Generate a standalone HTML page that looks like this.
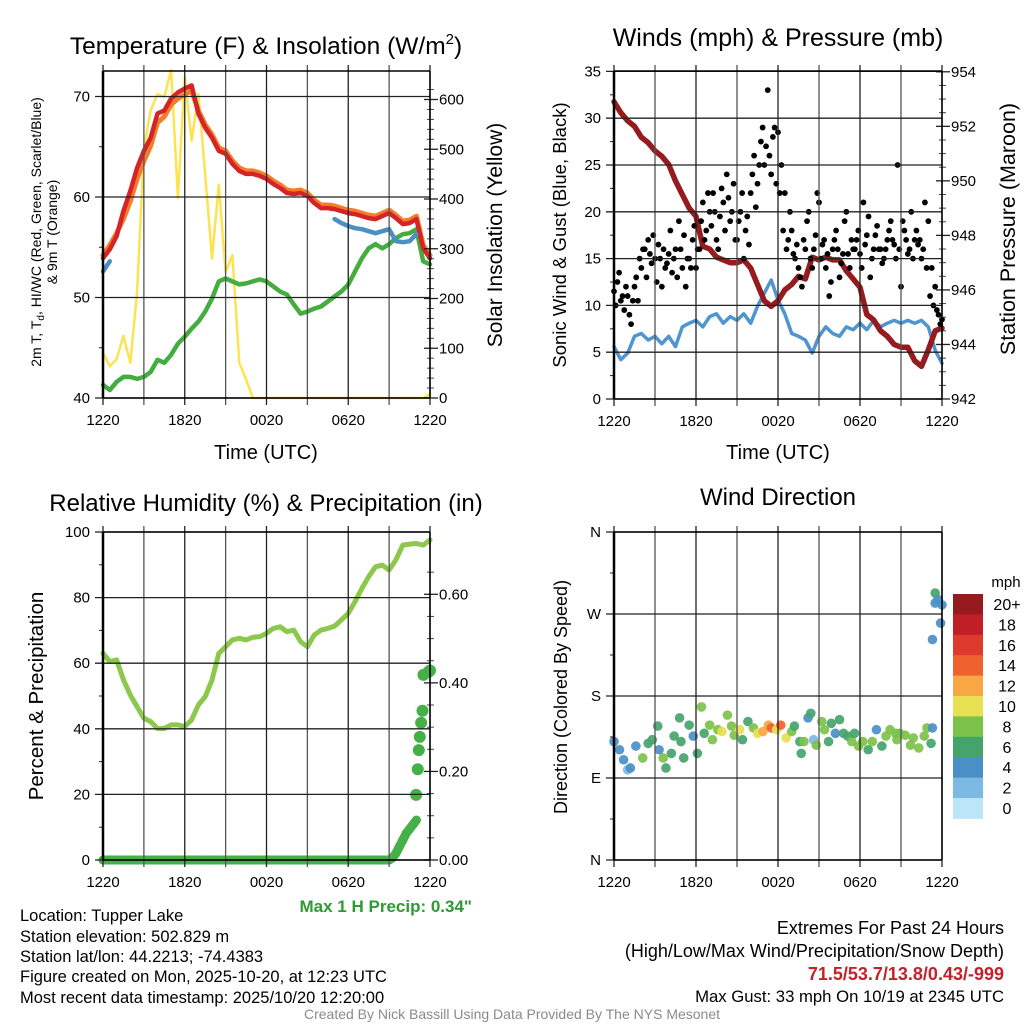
<!DOCTYPE html>
<html><head><meta charset="utf-8"><style>
html,body{margin:0;padding:0;background:#fff;}
svg{display:block;font-family:"Liberation Sans",sans-serif;}
</style></head><body>
<svg id="chart" width="1024" height="1024" viewBox="0 0 1024 1024" xmlns="http://www.w3.org/2000/svg">
<rect x="0" y="0" width="1024" height="1024" fill="#fff"/>
<g id="marks"></g>
<g id="frames"></g>
<g font-size="24" text-anchor="middle" fill="#000">
<text x="266" y="54" font-size="24.5">Temperature (F) &amp; Insolation (W/m<tspan font-size="15" dy="-10">2</tspan><tspan dy="10">)</tspan></text>
<text x="778" y="46" font-size="25">Winds (mph) &amp; Pressure (mb)</text>
<text x="266" y="511" font-size="24">Relative Humidity (%) &amp; Precipitation (in)</text>
<text x="778" y="505" font-size="24">Wind Direction</text>
</g>
<g font-size="20" text-anchor="middle" fill="#000">
<text x="266" y="459">Time (UTC)</text>
<text x="778" y="459">Time (UTC)</text>
<text transform="translate(502,235) rotate(-90)" font-size="21">Solar Insolation (Yellow)</text>
<text transform="translate(566,235) rotate(-90)" font-size="18.5">Sonic Wind &amp; Gust (Blue, Black)</text>
<text transform="translate(1015,229) rotate(-90)" font-size="21.5">Station Pressure (Maroon)</text>
<text transform="translate(43,696) rotate(-90)" font-size="20.5">Percent &amp; Precipitation</text>
<text transform="translate(567,697) rotate(-90)" font-size="18">Direction (Colored By Speed)</text>
<text transform="translate(41,232) rotate(-90)" font-size="14">2m T, T<tspan font-size="10" dy="3">d</tspan><tspan dy="-3">, HI/WC (Red, Green, Scarlet/Blue)</tspan></text>
<text transform="translate(57,232) rotate(-90)" font-size="14">&amp; 9m T (Orange)</text>
</g>
<g id="colorbar"></g>
<g font-size="16.5" fill="#000">
<text x="20" y="921">Location: Tupper Lake</text>
<text x="20" y="942">Station elevation: 502.829 m</text>
<text x="20" y="962">Station lat/lon: 44.2213; -74.4383</text>
<text x="20" y="982">Figure created on Mon, 2025-10-20, at 12:23 UTC</text>
<text x="20" y="1003">Most recent data timestamp: 2025/10/20 12:20:00</text>
<text x="472" y="912" text-anchor="end" font-size="17" font-weight="bold" fill="#2e9a33">Max 1 H Precip: 0.34"</text>
<text x="1004" y="934" text-anchor="end" font-size="18">Extremes For Past 24 Hours</text>
<text x="1004" y="957" text-anchor="end" font-size="18">(High/Low/Max Wind/Precipitation/Snow Depth)</text>
<text x="1004" y="980" text-anchor="end" font-size="18" font-weight="bold" fill="#c5212b">71.5/53.7/13.8/0.43/-999</text>
<text x="1004" y="1002" text-anchor="end" font-size="16.7">Max Gust: 33 mph On 10/19 at 2345 UTC</text>
<text x="512" y="1019" text-anchor="middle" font-size="14" fill="#8a8a8a">Created By Nick Bassill Using Data Provided By The NYS Mesonet</text>
</g>
</svg>
<script>
// ---- data (half-hourly unless noted; hours since 12:20 UTC) ----
const xTickLabels = ['1220','1820','0020','0620','1220'];
const tempTicks = [40,50,60,70];
const insolTicks = [0,100,200,300,400,500,600];
const windTicks = [0,5,10,15,20,25,30,35];
const presTicks = [942,944,946,948,950,952,954];
const rhTicks = [0,20,40,60,80,100];
const precipTicks = ['0.00','0.20','0.40','0.60'];
const dirTickLabels = ['N','E','S','W','N'];
const speedBinLabels = ['0','2','4','6','8','10','12','14','16','18','20+'];

const temp2m = [53.9,54.8,56.1,58.6,60.6,62.9,64.6,65.9,68.3,68.6,69.8,70.4,70.8,71.1,68.3,66.9,65.9,64.6,64.3,63.3,62.6,62.3,62.3,62.1,61.8,61.3,60.9,60.4,60.3,60.4,60.1,59.4,58.9,58.9,58.8,58.6,58.4,58.3,58.1,57.9,57.8,58.1,58.4,57.9,57.3,57.4,57.8,54.9,53.9];
const temp9m = [54.2,55.2,56.4,57.8,59.6,61.8,63.6,65.1,67.4,68.0,69.2,69.8,70.2,70.6,68.6,67.2,66.2,64.9,64.6,63.6,62.9,62.6,62.6,62.4,62.1,61.6,61.2,60.7,60.6,60.7,60.4,59.7,59.2,59.2,59.1,58.9,58.7,58.6,58.4,58.2,58.1,58.4,58.7,58.2,57.6,57.7,58.1,55.2,54.2];
const dewpoint = [41.3,40.8,41.6,42.1,42.1,41.9,42.1,42.6,43.8,43.5,44.3,45.4,46.1,46.9,47.6,48.6,49.9,51.6,51.9,51.6,51.3,51.4,51.6,51.8,51.6,51.1,50.6,50.3,49.3,48.4,48.6,48.9,49.1,49.6,50.1,50.6,51.3,52.6,53.9,54.9,55.3,54.9,55.3,55.9,56.3,56.4,56.8,53.6,53.3];
const windChill = [52.6,53.6,null,null,null,null,null,null,null,null,null,null,null,null,null,null,null,null,null,null,null,null,null,null,null,null,null,null,null,null,null,null,null,null,57.8,57.4,57.1,56.9,56.8,56.6,56.4,56.6,56.8,55.6,55.5,55.6,56.3,null,null];
const insolation = [91,64,78,125,71,213,503,578,611,605,659,402,645,517,611,449,280,429,253,287,71,37,0,0,0,0,0,0,0,0,0,0,0,0,0,0,0,0,0,0,0,0,0,0,0,0,0,0,7];
const windSpeed = [5.6,4.2,4.9,6.7,7.0,6.3,6.7,5.9,6.7,5.6,7.7,8.1,8.4,7.7,8.8,9.1,8.1,8.8,8.4,9.1,8.1,9.9,11.3,12.7,10.6,9.1,7.0,6.7,6.3,4.9,6.7,7.7,7.0,6.7,7.7,7.4,8.1,7.4,8.4,7.7,8.1,8.4,8.1,8.4,8.1,8.4,7.7,5.2,3.8];
const pressure = [952.9,952.5,952.2,952.0,951.6,951.4,951.1,950.9,950.6,950.0,949.5,949.0,948.7,947.6,947.5,947.2,947.1,947.0,947.0,947.1,946.8,946.2,945.6,945.4,945.6,946.0,946.2,946.5,946.4,947.2,947.1,947.2,947.1,947.1,946.7,946.4,946.1,945.1,944.9,944.5,944.3,944.0,943.9,943.9,943.4,943.2,943.8,944.5,944.6];
// gusts every 15 min
const gusts = [11.5,12.5,10.5,9.5,11,8,12,10.5,14,16,17,14.5,15,16.5,12,14,15.5,13.5,16,19,14,12,15,17,14,16,21,18,20,22,17,19.5,21,24,19,23,17,20,15,19.5,22,26,23,27.5,25,33,24,29,28.5,25,22,17,18,15,14,12,16,20,14,17.5,21,16.5,14,11,16,18,13,15.5,20,14,16,17,15.5,21,17.5,13,16,18.5,16,15,17,19,16.5,25,12,18,15.5,20,17,16.5,15,21,19,14,12,9,8.5];
// additional gust reports (offset by 7.5 min)
const gusts2 = [10,13.5,11,12,9,10.5,13,15,16,13,15.5,17.5,12.5,15,16,14.5,18,15,13,16,17.5,15,14,18.5,16,19,17,22,18.5,20,16,22.5,18,21.5,20,17,19,22,18,16.5,24,20.5,25,29,27,26,28,23,22,18,16,20,15.5,16.5,13,17,19,15,16,22,15,17,15.5,12.5,17,16,14.5,19,15.5,17,16,18,14,16.5,19.5,15,17.5,16,14.5,16,18,17,15,16,19,17,16,15,18,17,16,14,11,10,9.5,8];
const relHumidity = [63,60.5,61,55,50.3,46.7,43.2,42.2,40.1,40.1,41.2,41.2,40.7,42.7,47.3,49.8,54.9,63,65,67.1,67.6,67.1,67.9,68.1,69.1,70.6,71.1,69.6,70.1,66.6,65,68.6,70.1,70.6,71.3,73.2,75.2,78.8,82.8,86.4,89.4,89.9,88.4,91.5,96,96.3,96.5,96,97.6];
// accumulated precip every 15 min (through 23:00 h)
const precip15 = [0,0,0,0,0,0,0,0,0,0,0,0,
0,0,0,0,0,0,0,0,0,0,0,0,
0,0,0,0,0,0,0,0,0,0,0,0,
0,0,0,0,0,0,0,0,0,0,0,0,
0,0,0,0,0,0,0,0,0,0,0,0,
0,0,0,0,0,0,0,0,0,0,0,0,
0,0,0,0,0,0,0,0,0,0,0,0,
0,0.005,0.015,0.03,0.045,0.06,0.07,0.08,0.09];
const precipDotHours = [22.98,23.1,23.18,23.25,23.35,23.45,23.52,23.9,24.0];
const precipDotValues = [0.147,0.205,0.248,0.278,0.31,0.337,0.418,0.425,0.428];
const dirHours = [0,0.4,0.7,1.0,1.2,1.6,2.1,2.5,2.8,3.2,3.3,3.6,3.8,4.2,4.4,4.8,4.9,5.1,5.5,5.8,6.1,6.4,6.6,7.0,7.2,7.6,7.9,8.3,8.6,8.8,9.2,9.4,9.8,10.2,10.5,10.9,11.3,11.5,11.9,12.2,12.6,13.0,13.2,13.6,13.7,13.9,14.2,14.4,14.6,14.8,15.2,15.4,15.7,15.9,16.2,16.5,16.8,17.1,17.4,17.6,17.9,18.2,18.6,18.9,19.2,19.6,19.9,20.2,20.6,20.7,20.9,21.3,21.7,21.9,22.3,22.7,22.9,23.2,23.3,23.3,23.5,23.5,23.7,23.9,24.0];
const dirDegrees = [130,121,110,99,101,125,112,128,132,147,121,112,101,117,136,156,130,112,148,136,117,168,139,148,132,143,141,159,147,137,143,132,152,145,139,141,148,145,143,148,134,141,147,130,117,130,156,161,132,126,152,143,130,150,139,154,139,136,130,139,125,130,121,130,143,125,136,143,139,132,139,137,126,134,123,136,145,128,145,242,282,293,286,260,280];
const dirSpeeds = [4,5,4,2,4,5,8,6,6,6,5,8,6,6,6,6,6,6,6,5,6,8,6,8,8,8,10,8,8,8,10,6,6,8,10,12,12,14,10,14,10,8,6,6,6,8,4,6,2,8,8,8,6,6,4,6,6,6,8,6,8,8,6,8,4,6,8,8,8,8,8,8,8,8,8,8,8,6,4,4,4,6,4,4,4];
const speedColors = ['#bde5f8','#7db9e5','#4a8fc6','#45a46c','#7cc24a','#e6e052','#f9a644','#f0622d','#df3a2e','#c01f28','#951b1e'];

// ---- helpers ----
const NS='http://www.w3.org/2000/svg';
const marks=document.getElementById('marks');
const frames=document.getElementById('frames');
function mk(tag, attrs, parent){const e=document.createElementNS(NS,tag);for(const k in attrs)e.setAttribute(k,attrs[k]);parent.appendChild(e);return e;}
function scale(d0,d1,r0,r1){return v=>r0+(v-d0)*(r1-r0)/(d1-d0);}

const P1={x0:103,x1:430,y0:71,y1:398,name:'temperature'};
const P2={x0:614,x1:942,y0:71,y1:399,name:'wind'};
const P3={x0:103,x1:430,y0:532,y1:860,name:'humidity'};
const P4={x0:614,x1:942,y0:532,y1:860,name:'direction'};
[P1,P2,P3,P4].forEach(p=>{p.x=scale(0,24,p.x0,p.x1);});
P1.yL=scale(40,70,398,96.5); P1.yR=scale(0,600,398,99.5);
P2.yL=scale(0,35,399,71.4); P2.yR=scale(942,954,399,71.8);
P3.yL=scale(0,100,860,532); P3.yR=scale(0,0.6,860,594.3);
P4.yL=scale(0,360,860,532);

function frame(p, leftVals, leftLabels, leftMinor, rightVals, rightLabels, rightMinor){
  const g=mk('g',{},frames);
  
  
  for(let h=0;h<=24;h+=3){
    const x=p.x(h);
    const l=mk('line',{x1:x,x2:x,y1:p.y0-6,y2:p.y1+7,stroke:(h%6===0)?'#222':'#555','stroke-width':1.3},g);
    
    
  }
  xTickLabels.forEach((t,i)=>{
    const tx=mk('text',{x:p.x(i*6),y:p.y1+27,'font-size':15,'text-anchor':'middle'},g);
    tx.textContent=t;
    
    
  });
  leftVals.forEach((v,i)=>{
    const y=p.yL(v);
    const l=mk('line',{x1:p.x0-8,x2:p.x1,y1:y,y2:y,stroke:'#222','stroke-width':1.3},g);
    
    
    const tx=mk('text',{x:p.x0-13,y:y+5,'font-size':15,'text-anchor':'end'},g);
    tx.textContent=leftLabels[i];
    
    
  });
  leftMinor.forEach(v=>{
    const y=p.yL(v);
    const l=mk('line',{x1:p.x0-4,x2:p.x0,y1:y,y2:y,stroke:'#222','stroke-width':1},g);
    
    
  });
  if(rightVals){
    rightVals.forEach((v,i)=>{
      const y=p.yR(v);
      const l=mk('line',{x1:p.x1-6,x2:p.x1+8,y1:y,y2:y,stroke:'#222','stroke-width':1.3},g);
      
      
      const tx=mk('text',{x:p.x1+9,y:y+5,'font-size':15,'text-anchor':'start'},g);
      tx.textContent=rightLabels[i];
      
      
    });
    rightMinor.forEach(v=>{
      const y=p.yR(v);
      const l=mk('line',{x1:p.x1-3,x2:p.x1+4,y1:y,y2:y,stroke:'#444','stroke-width':1},g);
      
      
    });
  }
  const top=mk('line',{x1:p.x0,x2:p.x1,y1:p.y0,y2:p.y0,stroke:'#000','stroke-width':1.5},g);
  
  
  const bot=mk('line',{x1:p.x0,x2:p.x1,y1:p.y1,y2:p.y1,stroke:'#000','stroke-width':1.5},g);
  
  
  const lft=mk('line',{x1:p.x0,x2:p.x0,y1:p.y0,y2:p.y1,stroke:'#000','stroke-width':2.5},g);
  
  
  const rgt=mk('line',{x1:p.x1,x2:p.x1,y1:p.y0,y2:p.y1,stroke:'#000','stroke-width':1.5},g);
  
  
}

frame(P1,tempTicks,tempTicks.map(String),[45,55,65],insolTicks,insolTicks.map(String),[20,40,60,80,120,140,160,180,220,240,260,280,320,340,360,380,420,440,460,480,520,540,560,580,620]);
frame(P2,windTicks,windTicks.map(String),[2.5,7.5,12.5,17.5,22.5,27.5,32.5],presTicks,presTicks.map(String),[942.5,943,943.5,944.5,945,945.5,946.5,947,947.5,948.5,949,949.5,950.5,951,951.5,952.5,953,953.5]);
frame(P3,rhTicks,rhTicks.map(String),[10,30,50,70,90],[0,0.2,0.4,0.6],precipTicks,[0.05,0.1,0.15,0.25,0.3,0.35,0.45,0.5,0.55,0.65]);
frame(P4,[0,90,180,270,360],dirTickLabels,[45,135,225,315],null,null,null);

function path(p, arr, yfn, dt, color, w, name){
  let d='', pen=false;
  arr.forEach((v,i)=>{
    if(v===null){pen=false;return;}
    d+=(pen?'L':'M')+p.x(i*dt).toFixed(1)+' '+yfn(v).toFixed(1)+' ';
    pen=true;
  });
  const e=mk('path',{d:d,fill:'none',stroke:color,'stroke-width':w,'stroke-linejoin':'round','stroke-linecap':'round'},marks);
  
  
  return e;
}

// Panel 1
path(P1,insolation,P1.yR,0.5,'#fde352',2.5,'insolation-line');
path(P1,dewpoint,P1.yL,0.5,'#44ad3f',4.5,'dewpoint-line');
path(P1,temp9m,P1.yL,0.5,'#f47c2a',5,'temp-9m-line');
path(P1,temp2m,P1.yL,0.5,'#d42428',4.5,'temp-2m-line');
path(P1,windChill,P1.yL,0.5,'#4a8fc6',4.5,'wind-chill-line');

// Panel 2
path(P2,windSpeed,P2.yL,0.5,'#4f95cf',3.5,'sustained-wind-line');
path(P2,pressure,P2.yR,0.5,'#961b1e',5.5,'pressure-line');
gusts.forEach((v,i)=>{
  const c=mk('circle',{cx:P2.x(i*0.25),cy:P2.yL(v),r:2.9,fill:'#000'},marks);
  
  
});
gusts2.forEach((v,i)=>{
  const c=mk('circle',{cx:P2.x(i*0.25+0.125),cy:P2.yL(v),r:2.9,fill:'#000'},marks);
  
  
});

// Panel 3
path(P3,relHumidity,P3.yL,0.5,'#8cc84b',5,'humidity-line');
path(P3,precip15,P3.yR,0.25,'#45b048',9,'precip-accum-line');
precip15.forEach((v,i)=>{
  const c=mk('circle',{cx:P3.x(i*0.25),cy:P3.yR(v),r:4.5,fill:'#45b048'},marks);
  
  
});
precipDotHours.forEach((h,i)=>{
  const c=mk('circle',{cx:P3.x(h),cy:P3.yR(precipDotValues[i]),r:6,fill:'#45b048'},marks);
  
  
});

// Panel 4
dirHours.forEach((h,i)=>{
  const bin=Math.min(10,Math.floor(dirSpeeds[i]/2));
  const c=mk('circle',{cx:P4.x(h),cy:P4.yL(dirDegrees[i]),r:4.8,fill:speedColors[bin],'fill-opacity':0.92},marks);
  
  
});

// Colorbar
const cb=document.getElementById('colorbar');
const cbTop=594, cbH=20.4;
const mph=mk('text',{x:1006,y:587,'font-size':15,'text-anchor':'middle'},cb);
mph.textContent='mph';


speedBinLabels.forEach((lab,i)=>{
  const idx=speedBinLabels.length-1-i;
  const r=mk('rect',{x:953,y:cbTop+i*cbH,width:30,height:cbH+0.5,fill:speedColors[idx]},cb);
  
  
  const t=mk('text',{x:1007,y:cbTop+i*cbH+16,'font-size':16,'text-anchor':'middle'},cb);
  t.textContent=speedBinLabels[idx];
  
  
});
</script>
</body></html>
